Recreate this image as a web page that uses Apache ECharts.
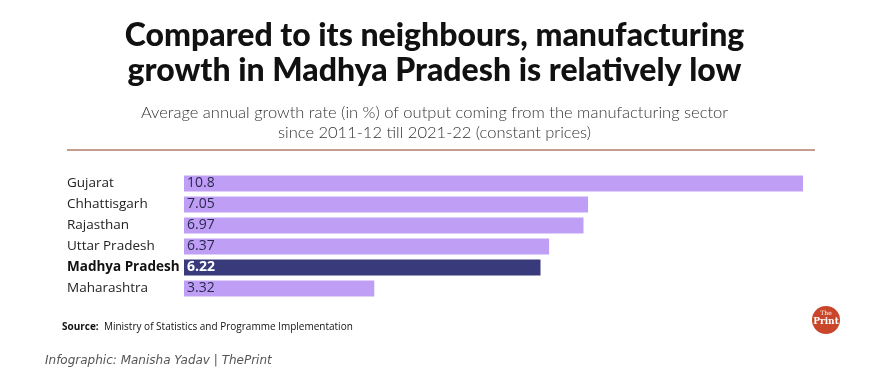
<!DOCTYPE html>
<html><head><meta charset="utf-8">
<script src="https://cdn.jsdelivr.net/npm/echarts@6/dist/echarts.min.js"></script>
<style>html,body{margin:0;padding:0;background:#fff}#c{width:869px;height:387px}</style>
</head><body><div id="c"></div>
<script>
const categories = ['Gujarat','Chhattisgarh','Rajasthan','Uttar Pradesh','Madhya Pradesh','Maharashtra'];
const values = [10.8, 7.05, 6.97, 6.37, 6.22, 3.32];
const highlight = 'Madhya Pradesh';

const chart = echarts.init(document.getElementById('c'));
chart.setOption({
  backgroundColor: '#fff',
  animation: false,
  title: [
    {text: 'Compared to its neighbours, manufacturing\ngrowth in Madhya Pradesh is relatively low', left: 'center', top: 13,
     textStyle: {fontFamily: 'Lato', fontWeight: 900, fontSize: 32, lineHeight: 35, color: '#111'}},
    {text: 'Average annual growth rate (in %) of output coming from the manufacturing sector\nsince 2011-12 till 2021-22 (constant prices)', left: 'center', top: 98,
     textStyle: {fontFamily: 'Lato', fontWeight: 300, fontSize: 16.5, lineHeight: 20, color: '#333'}}
  ],
  grid: {left: 184, right: 66, top: 173, bottom: 88, containLabel: false},
  xAxis: {type: 'value', min: 0, max: 10.8, show: false},
  yAxis: {type: 'category', data: categories, inverse: true,
    axisLine: {show: false}, axisTick: {show: false},
    axisLabel: {align: 'left', margin: 117, fontFamily: 'Open Sans', fontSize: 13.5, color: '#222',
      formatter: v => v === highlight ? '{b|' + v + '}' : v,
      rich: {b: {fontFamily: 'Open Sans', fontWeight: 'bold', fontSize: 13.5, color: '#111'}}}},
  series: [{
    type: 'bar', barWidth: 16,
    data: values.map((v, i) => ({value: v,
      itemStyle: {color: categories[i] === highlight ? '#383a7c' : '#bf9ff6'},
      label: categories[i] === highlight ? {color: '#fff', fontWeight: 'bold'} : {}})),
    label: {show: true, position: 'insideLeft', offset: [-2, 0], fontFamily: 'Open Sans', fontSize: 14, color: '#2b2850',
      formatter: p => String(p.value)}
  }],
  graphic: [
    {type: 'line', shape: {x1: 67, y1: 150, x2: 815, y2: 150}, style: {stroke: '#8b3b1f', lineWidth: 1}},
    {type: 'text', left: 62, top: 322, style: {text: '{b|Source:}  Ministry of Statistics and Programme Implementation',
      rich: {b: {fontFamily: 'Open Sans', fontWeight: 'bold', fontSize: 10, fill: '#111'}},
      fontFamily: 'Open Sans', fontSize: 10, fill: '#111'}},
    {type: 'text', left: 45, top: 355, style: {text: 'Infographic: Manisha Yadav | ThePrint', fontFamily: 'DejaVu Sans', fontStyle: 'italic', fontSize: 12, fill: '#555'}},
    {type: 'circle', shape: {cx: 826, cy: 320, r: 14}, style: {fill: '#c9462a'}},
    {type: 'text', x: 826, y: 313, style: {text: 'The', align: 'center', verticalAlign: 'middle', fontFamily: 'DejaVu Serif', fontSize: 6, fill: '#fff'}},
    {type: 'text', x: 826, y: 322, style: {text: 'Print', align: 'center', verticalAlign: 'middle', fontFamily: 'DejaVu Serif', fontWeight: 'bold', fontSize: 9, fill: '#fff'}}
  ]
});
</script></body></html>
